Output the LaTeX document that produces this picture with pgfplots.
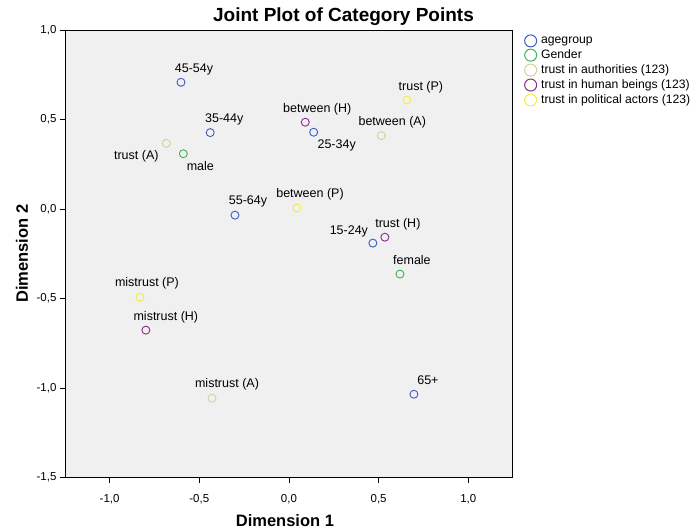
\documentclass[border=0pt]{standalone}
\usepackage{pgfplots}
\pgfplotsset{compat=1.18}
\usepackage{fontspec}
\setmainfont{Liberation Sans}
\definecolor{cage}{HTML}{3E5AC8}
\definecolor{cgen}{HTML}{3CB44A}
\definecolor{cauth}{HTML}{D6CE9C}
\definecolor{chum}{HTML}{8A2C8C}
\definecolor{cpol}{HTML}{F2EE40}
\definecolor{bgc}{HTML}{F0F0F0}
\begin{document}
\begin{tikzpicture}
\useasboundingbox (-65pt,-51.3pt) rectangle (633pt,477.7pt);
\begin{axis}[
  at={(0pt,0pt)}, anchor=south west,
  scale only axis, width=447pt, height=447.7pt,
  xmin=-1.249, xmax=1.244, ymin=-1.5, ymax=1.0,
  xtick={-1,-0.5,0,0.5,1}, ytick={-1.5,-1,-0.5,0,0.5,1},
  tick align=outside, xtick pos=left, ytick pos=left,
  major tick length=5pt,
  tick style={black, line width=0.8pt},
  axis line style={black, line width=0.8pt},
  axis background/.style={fill=bgc},
  /pgf/number format/.cd, assume math mode=true, use comma, fixed, fixed zerofill, precision=1,
  /pgfplots/.cd,
  tick label style={font=\fontsize{11.5}{13}\selectfont},
  xticklabel style={yshift=-8pt},
  xlabel={\textbf{Dimension 1}},
  ylabel={\textbf{Dimension 2}},
  label style={font=\fontsize{16.5}{18}\selectfont},
  xlabel style={at={(axis description cs:0.492,0)}, anchor=base, yshift=-49pt},
  ylabel style={at={(axis description cs:-0.0962,0.5)}, anchor=center},
  title={\textbf{Joint Plot of Category Points}},
  title style={font=\fontsize{19}{21}\selectfont, at={(0.623,1)}, anchor=base, yshift=2.3pt},
  legend style={at={(1.02,0.994)}, anchor=north west, draw=none, fill=none,
    font=\fontsize{12.2}{14}\selectfont, row sep=1.6pt,
    nodes={inner sep=1.5pt}},
  legend image code/.code={\path[draw=none, fill=none] (-6.5pt,0) -- (9pt,0); \draw[#1, mark size=6pt, line width=1pt, only marks] plot coordinates {(0pt,0pt)};},
  legend cell align=left,
  every axis plot/.append style={only marks, mark=o, mark size=4pt, line width=0.9pt},
  clip=false,
]
\addplot[cage] coordinates {(-0.602,0.708) (-0.439,0.427) (0.138,0.429) (-0.301,-0.034) (0.468,-0.190) (0.697,-1.034)};
\addlegendentry{agegroup}
\addplot[cgen] coordinates {(-0.589,0.309) (0.619,-0.363)};
\addlegendentry{Gender}
\addplot[cauth] coordinates {(-0.684,0.367) (0.515,0.410) (-0.429,-1.056)};
\addlegendentry{trust in authorities (123)}
\addplot[chum] coordinates {(0.091,0.485) (0.535,-0.157) (-0.798,-0.676)};
\addlegendentry{trust in human beings (123)}
\addplot[cpol] coordinates {(0.658,0.609) (0.045,0.006) (-0.831,-0.492)};
\addlegendentry{trust in political actors (123)}
\begin{scope}[every node/.style={font=\fontsize{12.5}{14}\selectfont, inner sep=0pt}]
\node at (axis cs:-0.602,0.708) [xshift=13pt, yshift=13pt] {45-54y};
\node at (axis cs:-0.439,0.427) [xshift=14pt, yshift=13pt] {35-44y};
\node at (axis cs:0.138,0.429) [xshift=23pt, yshift=-13pt] {25-34y};
\node at (axis cs:-0.301,-0.034) [xshift=13pt, yshift=14pt] {55-64y};
\node at (axis cs:0.468,-0.190) [xshift=-24pt, yshift=12pt] {15-24y};
\node at (axis cs:0.697,-1.034) [xshift=14pt, yshift=14pt] {65+};
\node at (axis cs:-0.589,0.309) [xshift=17pt, yshift=-12pt] {male};
\node at (axis cs:0.619,-0.363) [xshift=12pt, yshift=14pt] {female};
\node at (axis cs:-0.684,0.367) [xshift=-30pt, yshift=-13pt] {trust (A)};
\node at (axis cs:0.515,0.410) [xshift=11pt, yshift=13pt] {between (A)};
\node at (axis cs:-0.429,-1.056) [xshift=15pt, yshift=14pt] {mistrust (A)};
\node at (axis cs:0.091,0.485) [xshift=12pt, yshift=13pt] {between (H)};
\node at (axis cs:0.535,-0.157) [xshift=13pt, yshift=13pt] {trust (H)};
\node at (axis cs:-0.798,-0.676) [xshift=20pt, yshift=13pt] {mistrust (H)};
\node at (axis cs:0.658,0.609) [xshift=14pt, yshift=13pt] {trust (P)};
\node at (axis cs:0.045,0.006) [xshift=13pt, yshift=14pt] {between (P)};
\node at (axis cs:-0.831,-0.492) [xshift=7pt, yshift=14pt] {mistrust (P)};
\end{scope}
\end{axis}
\end{tikzpicture}
\end{document}
